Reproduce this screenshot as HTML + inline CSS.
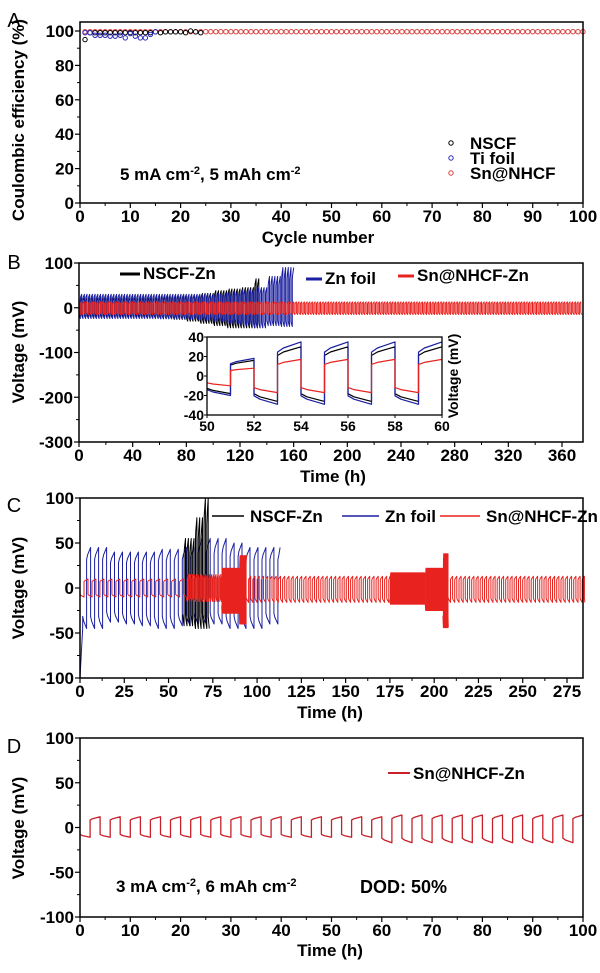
<!DOCTYPE html>
<html><head><meta charset="utf-8"><style>
html,body{margin:0;padding:0;background:#fff;}
svg{display:block;font-family:"Liberation Sans",Arial,sans-serif;font-weight:bold;}
</style></head><body>
<svg id="fig" width="600" height="973" viewBox="0 0 600 973" xmlns="http://www.w3.org/2000/svg"></svg>
<script>
// ---------- DATA ----------
// Panel A: coulombic efficiency (%)
const aNscf = [95,99,99,99,99,99,99,99,99,99,99,99,99,99,99.5,99,99.5,99.5,99.5,99.5,99,100,99.5,99];
const aTi = [99,99,97.5,97.5,97.5,97,97,97.5,96,98.5,97,96,96,98,99.5];
const aSnLevel = 99.6; const aSnCount = 100;
// Panel B (period 2h): envelopes per 10h segment
const bBlueHi = [30,30,30,30,30,30,30,30,30,30,32,35,40,45,70,90];
const bBlueLo = [24,24,24,24,24,24,25,25,26,28,30,35,40,45,40,42];
const bBlackHi = [22,22,22,22,22,22,24,26,28,32,38,42,45,65];
const bBlackLo = [20,20,20,20,20,22,24,26,30,35,40,45,45,45];
const bRedHi = [13]; const bRedLo = [15];
// inset 50-60h
const inBlueHi = [18,35]; const inBlueLo = [20,29];
const inBlackHi = [16,30]; const inBlackLo = [18,26];
const inRedHi = [8,17]; const inRedLo = [10,17];
// Panel C
const cBlueHi = [45,40,40,40,43,45,55,55,50,45,45,45];
const cBlueLo = [45,38,40,42,45,42,40,40,45,45,40,35];
const cBlackHi = [55,78,100];
const cBlackLo = [42,45,45];
const cRedSegStart = [0,60,80,90,94,175,195,205,208];
const cRedSegEnd   = [60,80,90,94,175,195,205,208,285];
const cRedPeriod   = [4.5,1.2,0.4,0.4,2.4,0.5,0.4,0.4,2.4];
const cRedHi       = [10,15,22,36,13,17,22,38,13];
const cRedLo       = [10,15,28,40,16,18,25,44,16];
// Panel D (period 4h)
const dHi = [12,14]; const dLo = [11,17];

// ---------- helpers ----------
const NS='http://www.w3.org/2000/svg';
const svg=document.getElementById('fig');
function mk(tag,a,p){const e=document.createElementNS(NS,tag);for(const k in a)e.setAttribute(k,a[k]);(p||svg).appendChild(e);return e;}
function txt(s,x,y,size,anchor,p){const t=mk('text',{x:x,y:y,'font-size':size,'text-anchor':anchor||'middle'},p);t.textContent=s;return t;}
function lin(a0,a1,p0,p1){return v=>p0+(v-a0)*(p1-p0)/(a1-a0);}
function wave(t0,t1,P,hiArr,loArr,segLen,X,Y){
  let d='';let t=t0;
  const env=(arr,tt)=>{const i=Math.min(arr.length-1,Math.max(0,Math.floor((tt-t0)/segLen)));return arr[i];};
  const f=(x)=>X(x).toFixed(1);
  while(t<t1-1e-9){
    const h=P/2;const lo=env(loArr,t),hi=env(hiArr,t);
    const tm=Math.min(t+h,t1),te=Math.min(t+P,t1),tq=Math.min(t+h*0.25,t1),tq2=Math.min(t+h+h*0.25,t1);
    d+=(d?'L':'M')+f(t)+','+Y(-lo*0.7).toFixed(1);
    d+='L'+f(tq)+','+Y(-lo*0.82).toFixed(1);
    d+='L'+f(tm)+','+Y(-lo).toFixed(1);
    if(tm<t1){d+='L'+f(tm)+','+Y(hi*0.7).toFixed(1);
      d+='L'+f(tq2)+','+Y(hi*0.82).toFixed(1);
      d+='L'+f(te)+','+Y(hi).toFixed(1);}
    t+=P;
  }
  return d;
}
function frame(name,x0,y0,x1,y1){const r=mk('rect',{x:x0,y:y0,width:x1-x0,height:y1-y0,fill:'none',stroke:'#000','stroke-width':1.5});

}
function yticks(name,X0,Y,vals,minor,size){const g=mk('g',{});


vals.forEach(v=>{mk('line',{x1:X0-5,x2:X0,y1:Y(v),y2:Y(v),stroke:'#000','stroke-width':1.2},g);txt(String(v),X0-6,Y(v)+6,size,'end',g);});
minor.forEach(v=>{mk('line',{x1:X0-3,x2:X0,y1:Y(v),y2:Y(v),stroke:'#000','stroke-width':1},g);});}
function xticks(name,Y0,X,vals,minor,size){const g=mk('g',{});


vals.forEach(v=>{mk('line',{x1:X(v),x2:X(v),y1:Y0,y2:Y0+5,stroke:'#000','stroke-width':1.2},g);txt(String(v),X(v),Y0+19,size,'middle',g);});
minor.forEach(v=>{mk('line',{x1:X(v),x2:X(v),y1:Y0,y2:Y0+3,stroke:'#000','stroke-width':1},g);});}
function range(a,b,s){const r=[];for(let v=a;v<=b+1e-9;v+=s)r.push(+v.toFixed(3));return r;}
function vlabel(s,x,y,size){const t=txt(s,x,y,size,'middle');t.setAttribute('transform','rotate(-90 '+x+' '+y+')');return t;}
function path(d,color,w){return mk('path',{d:d,fill:'none',stroke:color,'stroke-width':w||1,'stroke-linejoin':'round'});}
const RED='#e8221f',BLUE='#1b1fa0',BLK='#000';
const FS=17;

// ---------- Panel A ----------
const xA=lin(0,100,80,583), yA=lin(0,100,203,31);
let l=txt('A',14,27,20,'middle');l.setAttribute('font-weight','normal');


for(let i=1;i<=aSnCount;i++){const c=mk('circle',{cx:xA(i),cy:yA(aSnLevel),r:2.2,fill:'none',stroke:'#d84040','stroke-width':1});

}
aNscf.forEach((v,i)=>{const c=mk('circle',{cx:xA(i+1),cy:yA(v),r:2.2,fill:'#fff',stroke:BLK,'stroke-width':1});

});
aTi.forEach((v,i)=>{const c=mk('circle',{cx:xA(i+1),cy:yA(v),r:2.2,fill:'none',stroke:'#2a2ac0','stroke-width':1});

});
frame('panel-a',80,22,583,203);
yticks('panel-a',80,yA,range(0,100,20),range(10,90,20),FS);
xticks('panel-a',203,xA,range(0,100,10),range(5,95,10),FS);
l=vlabel('Coulombic efficiency (%)',24,120,17);


l=txt('Cycle number',318,243,17);


[['NSCF',BLK,143],['Ti foil','#2a2ac0',158],['Sn@NHCF','#d84040',173]].forEach(e=>{const g=mk('g',{});


mk('circle',{cx:451,cy:e[2],r:2.2,fill:'none',stroke:e[1]},g);txt(e[0],470,e[2]+6,17,'start',g);});
l=mk('text',{x:120,y:180,'font-size':17});l.innerHTML='5 mA cm<tspan dy="-6" font-size="11">-2</tspan><tspan dy="6">, 5 mAh cm</tspan><tspan dy="-6" font-size="11">-2</tspan>';



// ---------- Panel B ----------
const xB=lin(0,360,79,562), yB=lin(-300,100,442,263);
l=txt('B',14,269,20);l.setAttribute('font-weight','normal');


let p=path(wave(0,135,2,bBlackHi,bBlackLo,10,xB,yB),BLK,1);


p=path(wave(0,160,2,bBlueHi,bBlueLo,10,xB,yB),BLUE,1);


p=path(wave(0,375,2,bRedHi,bRedLo,1000,xB,yB),RED,1);


frame('panel-b',79,263,583,442);
yticks('panel-b',79,yB,[100,0,-100,-200,-300],[50,-50,-150,-250],FS);
xticks('panel-b',442,xB,range(0,360,40),range(20,360,40),FS);
l=vlabel('Voltage (mV)',24,352,17);


l=txt('Time (h)',333,482,17);


[['NSCF-Zn',BLK,120,143,279],['Zn foil',BLUE,306,325,284],['Sn@NHCF-Zn',RED,398,417,281]].forEach(e=>{const g=mk('g',{});


mk('line',{x1:e[2],x2:e[3]-3,y1:e[4]-5,y2:e[4]-5,stroke:e[1],'stroke-width':3},g);txt(e[0],e[3],e[4],17,'start',g);});
// inset
const xI=lin(50,60,207,442), yI=lin(-40,40,415,337);
const ig=mk('g',{});


mk('rect',{x:207,y:337,width:235,height:78,fill:'#fff',stroke:'none'},ig);
ig.appendChild(path(wave(50,60,2,inBlackHi,inBlackLo,1,t=>xI(t),yI),BLK,1.2));
ig.appendChild(path(wave(50,60,2,inBlueHi,inBlueLo,1,t=>xI(t),yI),BLUE,1.2));
ig.appendChild(path(wave(50,60,2,inRedHi,inRedLo,1,t=>xI(t),yI),RED,1.2));
mk('rect',{x:207,y:337,width:235,height:78,fill:'none',stroke:'#000','stroke-width':1.3},ig);
[40,20,0,-20,-40].forEach(v=>{mk('line',{x1:204,x2:207,y1:yI(v),y2:yI(v),stroke:'#000'},ig);txt(String(v),204,yI(v)+5,14,'end',ig);});
[50,52,54,56,58,60].forEach(v=>{mk('line',{x1:xI(v),x2:xI(v),y1:415,y2:418,stroke:'#000'},ig);txt(String(v),xI(v),431,14,'middle',ig);});
const it=txt('Voltage (mV)',458,376,14);it.setAttribute('transform','rotate(-90 458 376)');ig.appendChild(it);

// ---------- Panel C ----------
const xC=lin(0,275,80,567), yC=lin(-100,100,678,498);
l=txt('C',14,512,20);l.setAttribute('font-weight','normal');


p=path('M'+xC(0)+','+yC(-100)+'L'+xC(1.5)+','+yC(-45)+wave(1.5,113,4.5,cBlueHi,cBlueLo,10,xC,yC).replace(/^M/,'L'),BLUE,1);


p=path(wave(58,73,1.6,cBlackHi,cBlackLo,5,xC,yC),BLK,1);


cRedSegStart.forEach((s,i)=>{const q=path(wave(s,cRedSegEnd[i],cRedPeriod[i],[cRedHi[i]],[cRedLo[i]],1000,xC,yC),RED,1);

});
frame('panel-c',80,498,583,678);
yticks('panel-c',80,yC,[100,50,0,-50,-100],[75,25,-25,-75],FS);
xticks('panel-c',678,xC,range(0,275,25),range(12.5,275,25),FS);
l=vlabel('Voltage (mV)',24,588,17);


l=txt('Time (h)',330,718,17);


[['NSCF-Zn',BLK,212,250],['Zn foil',BLUE,342,385],['Sn@NHCF-Zn',RED,440,486]].forEach(e=>{const g=mk('g',{});


mk('line',{x1:e[2],x2:e[3]-6,y1:516,y2:516,stroke:e[1],'stroke-width':1.5},g);txt(e[0],e[3],522,17,'start',g);});

// ---------- Panel D ----------
const xD=lin(0,100,80,583), yD=lin(-100,100,917,738);
l=txt('D',14,753,20);l.setAttribute('font-weight','normal');


p=path(wave(0,100,4,dHi,dLo,60,xD,yD),'#c8202a',1.3);


frame('panel-d',80,738,583,917);
yticks('panel-d',80,yD,[100,50,0,-50,-100],[75,25,-25,-75],FS);
xticks('panel-d',917,xD,range(0,100,10),range(5,95,10),FS);
l=vlabel('Voltage (mV)',24,828,17);


l=txt('Time (h)',330,956,17);


const lg=mk('g',{});


mk('line',{x1:388,x2:410,y1:773,y2:773,stroke:'#c8202a','stroke-width':2},lg);txt('Sn@NHCF-Zn',413,779,17,'start',lg);
l=mk('text',{x:116,y:892,'font-size':17});l.innerHTML='3 mA cm<tspan dy="-6" font-size="11">-2</tspan><tspan dy="6">, 6 mAh cm</tspan><tspan dy="-6" font-size="11">-2</tspan>';


l=txt('DOD: 50%',360,893,18,'start');


</script>
</body></html>
